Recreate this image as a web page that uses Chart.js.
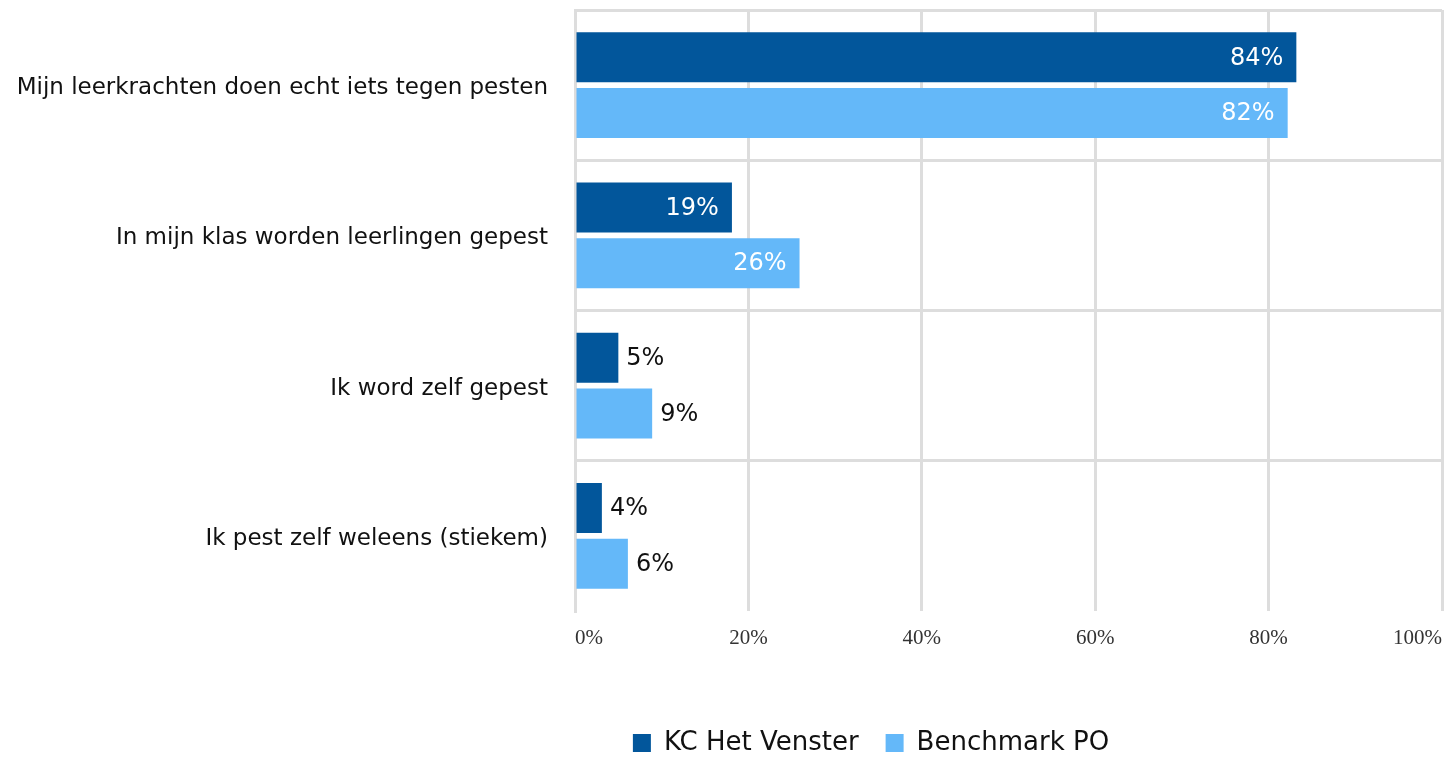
<!DOCTYPE html>
<html>
<head>
<meta charset="utf-8">
<script src="https://cdn.jsdelivr.net/npm/chart.js@4"></script>
<style>
  html, body { margin: 0; padding: 0; background: #fff; }
  #wrap { width: 1445px; height: 758px; }
</style>
</head>
<body>
<div id="wrap"><canvas id="grafiek"></canvas></div>
<script>
// categorieen en waarden (lengte van de balken zoals in het plaatje)
const categorieen = [
    "Mijn leerkrachten doen echt iets tegen pesten",
    "In mijn klas worden leerlingen gepest",
    "Ik word zelf gepest",
    "Ik pest zelf weleens (stiekem)"
];
const kcWaarden = [83.2, 18.1, 5.0, 3.1];
const kcLabels = ["84%", "19%", "5%", "4%"];
const benchWaarden = [82.2, 25.9, 8.9, 6.1];
const benchLabels = ["82%", "26%", "9%", "6%"];
const tickLabels = ["0%", "20%", "40%", "60%", "80%", "100%"];

const fontSans = "'DejaVu Sans', Verdana, sans-serif";

// percentage labels bij de balken
const waardeLabels = {
    id: "waardeLabels",
    afterDatasetsDraw(chart) {
        const ctx = chart.ctx;
        const teksten = [kcLabels, benchLabels];
        ctx.save();
        ctx.font = "24px " + fontSans;
        ctx.textBaseline = "middle";
        chart.data.datasets.forEach((ds, i) => {
            const meta = chart.getDatasetMeta(i);
            meta.data.forEach((bar, j) => {
                const tekst = teksten[i][j];
                if (ds.data[j] > 15) {
                    ctx.fillStyle = "#ffffff";
                    ctx.textAlign = "right";
                    ctx.fillText(tekst, bar.x - 13, bar.y + 1);
                } else {
                    ctx.fillStyle = "#111111";
                    ctx.textAlign = "left";
                    ctx.fillText(tekst, bar.x + 8, bar.y + 1);
                }
            });
        });
        ctx.restore();
    }
};

// legenda iets naar rechts en omlaag schuiven
const legendaVerschuiven = {
    id: "legendaVerschuiven",
    afterLayout(chart) {
        const lg = chart.legend;
        lg.left += 150;
        lg.right += 150;
        lg.top += 8;
        lg.bottom += 8;
    }
};

new Chart(document.getElementById("grafiek"), {
    type: "bar",
    data: {
        labels: categorieen,
        datasets: [{
            label: "KC Het Venster",
            data: kcWaarden,
            backgroundColor: "#02569b",
            categoryPercentage: 0.74,
            barPercentage: 0.9
        }, {
            label: "Benchmark PO",
            data: benchWaarden,
            backgroundColor: "#64b8f9",
            categoryPercentage: 0.74,
            barPercentage: 0.9
        }]
    },
    options: {
        indexAxis: "y",
        responsive: true,
        maintainAspectRatio: false,
        animation: false,
        layout: { padding: { top: 10, right: 3, left: 0, bottom: 0 } },
        scales: {
            x: {
                min: 0,
                max: 100,
                afterBuildTicks: (scale) => {
                    scale.ticks = tickLabels.map((t, i) => ({ value: i * 20 }));
                },
                afterFit: (scale) => {
                    scale.height = 84;
                    scale.paddingLeft = 0;
                    scale.paddingRight = 0;
                },
                grid: { color: "#dddddd", lineWidth: 3, drawTicks: false },
                border: { display: false },
                ticks: {
                    align: "inner",
                    padding: 15,
                    color: "#333333",
                    font: { family: "'Liberation Serif', serif", size: 21 },
                    callback: (v, i) => tickLabels[i]
                }
            },
            y: {
                afterFit: (scale) => {
                    scale.width = 575;
                    scale.paddingTop = 0;
                    scale.paddingBottom = 0;
                },
                grid: {
                    // onderste lijn niet tekenen
                    color: (c) => c.tick === undefined ? "rgba(0,0,0,0)" : "#dddddd",
                    lineWidth: 3,
                    drawTicks: false
                },
                border: { display: true, color: "#dddddd", width: 3 },
                ticks: {
                    padding: 27,
                    labelOffset: 3,
                    color: "#111111",
                    font: { family: fontSans, size: 23 }
                }
            }
        },
        plugins: {
            legend: {
                position: "bottom",
                labels: {
                    boxWidth: 18,
                    boxHeight: 18,
                    padding: 27,
                    color: "#111111",
                    font: { family: fontSans, size: 26 }
                }
            },
            tooltip: { enabled: false }
        }
    },
    plugins: [waardeLabels, legendaVerschuiven]
});
</script>
</body>
</html>
